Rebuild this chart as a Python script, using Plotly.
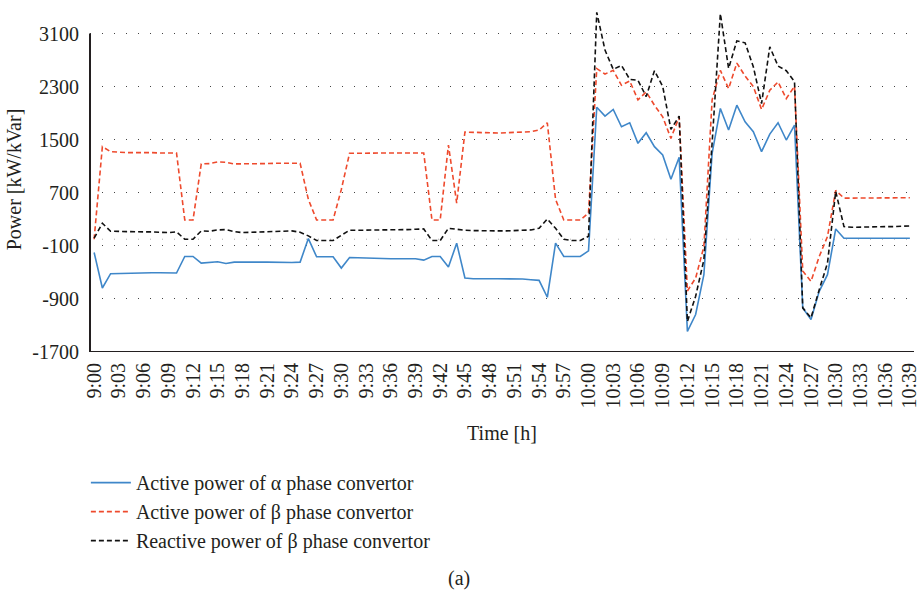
import plotly.graph_objects as go

# Categories: one point per minute, 9:00 .. 10:39
times = [f"{9 + m // 60}:{m % 60:02d}" for m in range(100)]
tick_labels = times[::3]

alpha_active = [
    -200, -735, -520, -515, -510, -510, -505, -505, -505, -505,
    -510, -260, -260, -360, -345, -340, -365, -345, -345, -340,
    -345, -345, -350, -350, -350, -345, 10, -265, -265, -265,
    -435, -275, -280, -280, -285, -290, -295, -295, -290, -295,
    -315, -260, -260, -420, -60, -585, -595, -600, -595, -595,
    -595, -600, -600, -610, -620, -875, -60, -260, -260, -260,
    -175, 1990, 1855, 1955, 1695, 1755, 1445, 1605, 1395, 1270,
    905, 1235, -1390, -1135, -535, 1295, 1970, 1645, 2020, 1770,
    1620, 1320, 1585, 1755, 1495, 1720, -1035, -1210, -785, -535,
    155, 15, 15, 15, 15, 15, 15, 15, 15, 15,
]

beta_active = [
    0, 1395, 1320, 1310, 1305, 1305, 1310, 1305, 1300, 1300,
    1300, 290, 290, 1135, 1140, 1165, 1160, 1135, 1135, 1130,
    1130, 1140, 1145, 1145, 1145, 1145, 600, 290, 290, 290,
    750, 1295, 1295, 1300, 1300, 1300, 1300, 1300, 1300, 1300,
    1300, 290, 290, 1420, 545, 1615, 1610, 1605, 1600, 1600,
    1605, 1610, 1615, 1620, 1645, 1755, 600, 290, 290, 290,
    395, 2570, 2490, 2545, 2320, 2385, 2100, 2220, 2020, 1845,
    1520, 1845, -780, -585, -110, 2100, 2545, 2270, 2655, 2460,
    2300, 1955, 2245, 2370, 2120, 2305, -480, -635, -260, 40,
    735, 620, 620, 620, 620, 620, 620, 622, 625, 625,
]

beta_reactive = [
    15, 240, 120, 115, 115, 115, 110, 110, 100, 100,
    110, 0, 0, 125, 120, 140, 145, 115, 100, 105,
    110, 110, 120, 125, 125, 105, 50, -20, -20, -20,
    60, 135, 135, 135, 135, 135, 140, 140, 145, 150,
    155, -20, -20, 165, 145, 135, 130, 125, 125, 125,
    125, 130, 135, 140, 165, 305, 165, 0, -20, -20,
    45, 3420, 2850, 2560, 2620, 2410, 2395, 2150, 2540, 2305,
    1655, 1855, -1240, -860, -310, 1450, 3400, 2575, 2990, 2960,
    2600, 2045, 2900, 2610, 2540, 2375, -1035, -1185, -760, -360,
    720, 190, 180, 185, 185, 185, 190, 190, 195, 200,
]

y_ticks = [-1700, -900, -100, 700, 1500, 2300, 3100]
y_tick_text = ["-1700", "-900", "-100", "700", "1500", "2300", "3100"]

FONT = "Liberation Serif"
TXT = "#231f20"
FS = 20

fig = go.Figure()
fig.add_trace(go.Scatter(x=times, y=alpha_active, mode="lines",
                         name="Active power of α phase convertor",
                         line=dict(color="#3f87c9", width=1.6)))
fig.add_trace(go.Scatter(x=times, y=beta_active, mode="lines",
                         name="Active power of β phase convertor",
                         line=dict(color="#ee4a2d", width=1.6, dash="5px,3px")))
fig.add_trace(go.Scatter(x=times, y=beta_reactive, mode="lines",
                         name="Reactive power of β phase convertor",
                         line=dict(color="#111111", width=1.6, dash="5px,3px")))

# axis lines drawn from -1700 to 3100 only
fig.add_shape(type="line", xref="paper", yref="y", x0=0, x1=0, y0=-1700, y1=3100,
              line=dict(color="#231f20", width=2))
fig.add_shape(type="line", xref="paper", yref="y", x0=0, x1=1, y0=-1700, y1=-1700,
              line=dict(color="#231f20", width=2))
# light dotted zero line
fig.add_shape(type="line", xref="paper", yref="y", x0=0, x1=1, y0=0, y1=0,
              layer="below", line=dict(color="#b0b0b0", width=1, dash="1px,11px"))

fig.add_annotation(text="(a)", xref="paper", yref="paper", x=0.448, y=-0.657,
                   xanchor="center", yanchor="middle",
                   showarrow=False, font=dict(family=FONT, size=FS, color=TXT))

fig.update_layout(
    width=921, height=592,
    margin=dict(l=90, r=1, t=7, b=240),
    paper_bgcolor="white", plot_bgcolor="white",
    font=dict(family=FONT, size=FS, color=TXT),
    showlegend=True,
    legend=dict(x=-0.005, y=-0.322, xanchor="left", yanchor="top",
                orientation="v", font=dict(family=FONT, size=FS, color=TXT),
                bgcolor="rgba(0,0,0,0)", itemwidth=40, tracegroupgap=0),
    xaxis=dict(type="category", range=[-0.5, 99.5], tickmode="array",
               tickvals=tick_labels, ticktext=tick_labels, tickangle=-90,
               showgrid=False, zeroline=False, showline=False, ticks="",
               ticklabelstandoff=6,
               tickfont=dict(family=FONT, size=FS, color=TXT),
               title=dict(text="Time [h]", standoff=18,
                          font=dict(family=FONT, size=FS, color=TXT))),
    yaxis=dict(range=[-1700, 3500], tickmode="array", tickvals=y_ticks,
               ticktext=y_tick_text,
               showgrid=True, gridcolor="#444444", gridwidth=1, griddash="1px,11px",
               zeroline=False, showline=False, ticks="", ticklabelstandoff=10,
               tickfont=dict(family=FONT, size=FS, color=TXT),
               title=dict(text="Power [kW/kVar]", standoff=5,
                          font=dict(family=FONT, size=FS, color=TXT))),
)

fig.write_html("out.html")
